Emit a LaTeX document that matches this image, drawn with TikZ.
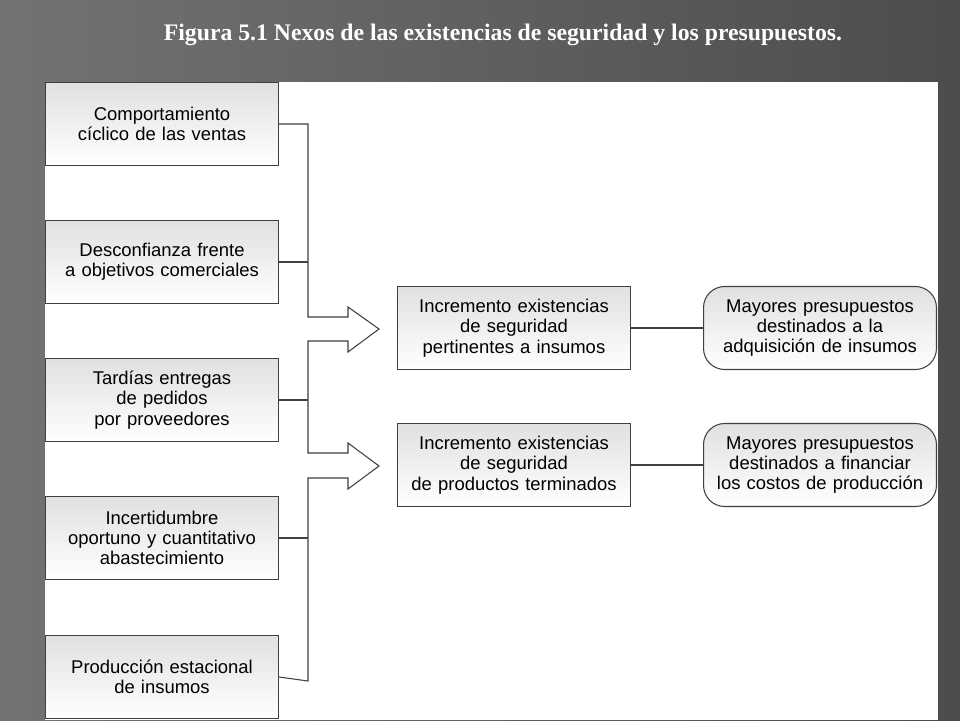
\documentclass[tikz,border=0pt]{standalone}
\usepackage{fontspec}
\setmainfont{Liberation Sans}
\newfontfamily\titlefont{Liberation Serif}
\begin{document}
\begin{tikzpicture}[x=0.02cm,y=-0.02cm,
    causa/.style={draw=black!75,line width=0.6pt,top color=black!12,bottom color=white,
      minimum width=233\pgfkeysvalueof{/pgf/x}, text width=220, align=center,
      font=\fontsize{10.5}{11.6}\selectfont, inner sep=0pt},
    causa/.style={draw=black!75,line width=0.6pt,top color=black!12,bottom color=white,
      minimum width=4.66cm,minimum height=1.66cm,text width=4.4cm,align=center,
      font=\fontsize{10.5}{11.6}\selectfont,inner sep=0pt},
    efecto/.style={causa,rounded corners=12pt},
    enlace/.style={draw=black!75,line width=0.6pt}]
  % fondo
  \shade[left color=black!55,right color=black!70] (0,0) rectangle (960,720);
  \fill[white] (45,82) rectangle (938,720);
  \node[font=\titlefont\bfseries\fontsize{13.5}{15}\selectfont,text=white] (tit) at (503,35)
    {Figura 5.1 Nexos de las existencias de seguridad y los presupuestos.};
  % causas
  \node[causa] (c1) at (162,124) {Comportamiento\\cíclico de las ventas};
  \node[causa] (c2) at (162,262) {Desconfianza frente\\a objetivos comerciales};
  \node[causa] (c3) at (162,400) {Tardías entregas\\de pedidos\\por proveedores};
  \node[causa] (c4) at (162,538) {Incertidumbre\\oportuno y cuantitativo\\abastecimiento};
  \node[causa] (c5) at (162,677) {Producción estacional\\de insumos};
  % existencias
  \node[causa] (e1) at (514,328) {Incremento existencias\\de seguridad\\pertinentes a insumos};
  \node[causa] (e2) at (514,465) {Incremento existencias\\de seguridad\\de productos terminados};
  % presupuestos
  \node[efecto] (p1) at (820,328) {Mayores presupuestos\\destinados a la\\adquisición de insumos};
  \node[efecto] (p2) at (820,465) {Mayores presupuestos\\destinados a financiar\\los costos de producción};
  % flechas
  \draw[enlace] (c1.east) -- (308,124) |- (348,317) -- (348,307) -- (379,329) -- (348,352)
    -- (348,341) -| (308,453) -- (348,453) -- (348,443) -- (379,466) -- (348,489)
    -- (348,478) -| (308,681) -- (c5.east);
  \draw[enlace] (c2.east) -- (308,262);
  \draw[enlace] (c3.east) -- (308,400);
  \draw[enlace] (c4.east) -- (308,538);
  \draw[enlace] (e1) -- (p1);
  \draw[enlace] (e2) -- (p2);
\end{tikzpicture}
\end{document}
